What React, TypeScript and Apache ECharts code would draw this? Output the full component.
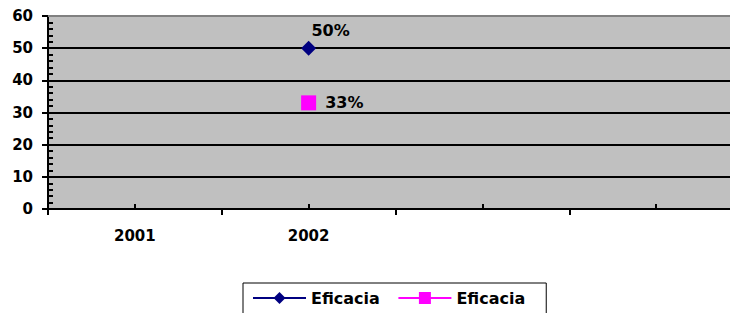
import React, { useEffect, useRef } from "react";
import * as echarts from "echarts";

const categories = ["2001", "2002", "", ""];
const seriesNames = ["Eficacia", "Eficacia"];
const eficaciaA = [null, 50, null, null];
const eficaciaB = [null, 33, null, null];
const labelsA = ["", "50%", "", ""];
const labelsB = ["", "33%", "", ""];
const yMin = 0;
const yMax = 60;
const yStep = 10;

const FONT = "'DejaVu Sans', sans-serif";

export default function App() {
  const ref = useRef<HTMLDivElement>(null);
  useEffect(() => {
    const chart = echarts.init(ref.current!, null, { renderer: "svg" });
    const textBase = { fontFamily: FONT, fontWeight: "bold" as const, fontSize: 15, color: "#000" };
    chart.setOption({
      animation: false,
      grid: {
        left: 48,
        top: 16,
        width: 695,
        bottom: 104,
        outerBoundsMode: "none",
        containLabel: false,
        show: true,
        backgroundColor: "#C0C0C0",
        borderWidth: 0,
      },
      xAxis: [
        {
          type: "category",
          data: categories,
          boundaryGap: true,
          axisLine: { show: true, lineStyle: { color: "#000", width: 2 } },
          axisTick: { show: true, inside: false, length: 6, lineStyle: { color: "#000", width: 2 } },
          axisLabel: { ...textBase, margin: 19, interval: 0 },
          splitLine: { show: false },
        },
        {
          type: "category",
          data: categories,
          position: "bottom",
          boundaryGap: true,
          axisLine: { show: false },
          axisTick: { show: true, inside: true, alignWithLabel: true, length: 5, lineStyle: { color: "#000", width: 2 } },
          axisLabel: { show: false },
          splitLine: { show: false },
        },
        {
          type: "category",
          data: categories,
          position: "top",
          axisLine: { show: true, lineStyle: { color: "#808080", width: 2 } },
          axisTick: { show: false },
          axisLabel: { show: false },
        },
      ],
      yAxis: [
        {
          type: "value",
          min: yMin,
          max: yMax,
          interval: yStep,
          axisLine: { show: true, lineStyle: { color: "#000", width: 2 } },
          axisTick: { show: true, inside: false, length: 6, lineStyle: { color: "#000", width: 2 } },
          axisLabel: { ...textBase, margin: 15 },
          splitLine: { show: true, lineStyle: { color: "#000", width: 2 } },
        },
        {
          type: "value",
          min: yMin,
          max: yMax,
          interval: yStep,
          position: "left",
          axisLine: { show: false },
          axisTick: { show: false, inside: true },
          minorTick: { show: true, splitNumber: 5, length: 5, lineStyle: { color: "#000", width: 2 } },
          axisLabel: { show: false },
          splitLine: { show: false },
        },
      ],
      legend: {
        left: 243,
        top: 283,
        padding: [7, 21, 14, 9],
        borderColor: "#000",
        borderWidth: 1,
        itemWidth: 53,
        itemHeight: 15,
        itemGap: 12,
        textStyle: { ...textBase, fontSize: 16, width: 74 },
        data: [
          { name: seriesNames[0] + " " },
          { name: seriesNames[1] },
        ],
      },
      series: [
        {
          name: seriesNames[0] + " ",
          type: "line",
          xAxisIndex: 0,
          yAxisIndex: 0,
          data: eficaciaA,
          symbol: "diamond",
          symbolSize: 15,
          color: "#000080",
          lineStyle: { color: "#000080", width: 2 },
          itemStyle: { color: "#000080" },
          label: {
            show: true,
            position: "top",
            distance: 2,
            offset: [22, 0],
            ...textBase,
            fontSize: 16,
            formatter: (p: any) => labelsA[p.dataIndex],
          },
        },
        {
          name: seriesNames[1],
          type: "line",
          xAxisIndex: 0,
          yAxisIndex: 0,
          data: eficaciaB,
          symbol: "rect",
          symbolSize: 15,
          color: "#FF00FF",
          lineStyle: { color: "#FF00FF", width: 2 },
          itemStyle: { color: "#FF00FF" },
          label: {
            show: true,
            position: "right",
            distance: 9,
            ...textBase,
            fontSize: 16,
            formatter: (p: any) => labelsB[p.dataIndex],
          },
        },
      ],
    });
    return () => chart.dispose();
  }, []);
  return (
    <div
      ref={ref}
      style={{ position: "fixed", left: 0, top: 0, width: 730, height: 313, background: "#fff" }}
    />
  );
}
